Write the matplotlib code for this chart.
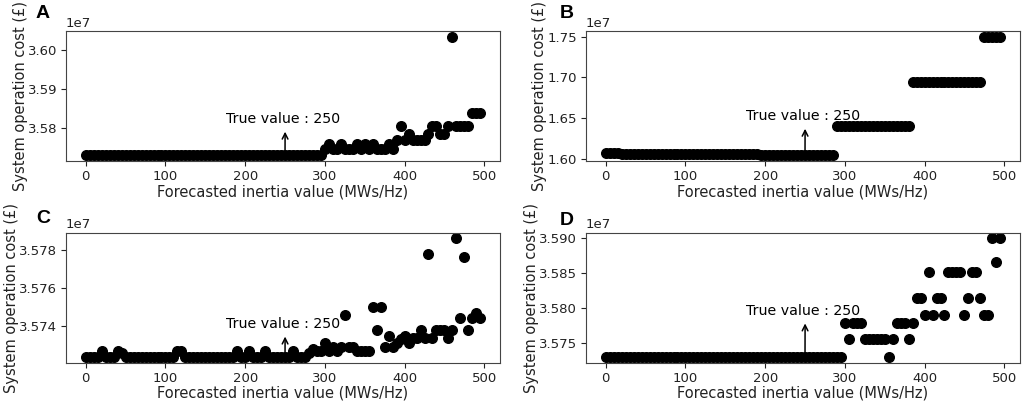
import numpy as np
import matplotlib
matplotlib.use("Agg")
import matplotlib.pyplot as plt

plt.rcParams["font.family"] = ["DejaVu Sans"]

# forecasted inertia values (MWs/Hz), one run every 5 units
inertia = np.arange(0, 500, 5)

# system operation cost, in units of 1e7 GBP
cost_a = ([3.5730] * 60
          + [3.5745, 3.5758, 3.5745, 3.5745, 3.5758, 3.5745, 3.5745, 3.5745,
             3.5758, 3.5745, 3.5758, 3.5745, 3.5758, 3.5745, 3.5745, 3.5745,
             3.5758, 3.5745, 3.5768, 3.5805, 3.5768, 3.5783, 3.5768, 3.5768,
             3.5768, 3.5768, 3.5783, 3.5805, 3.5805, 3.5783, 3.5783, 3.5805,
             3.6034, 3.5805, 3.5805, 3.5805, 3.5805, 3.5837, 3.5837, 3.5837])

cost_b = ([1.6077] * 4 + [1.6065] * 17 + [1.6058] * 18 + [1.6049] * 19
          + [1.6408] * 19 + [1.6943] * 18 + [1.7499] * 5)

cost_c = ([3.5724] * 4 + [3.5727] + [3.5724] * 3 + [3.5727, 3.5726]
          + [3.5724] * 13 + [3.5727, 3.5727] + [3.5724] * 13 + [3.5727]
          + [3.5724] * 2 + [3.5727] + [3.5724] * 3 + [3.5727]
          + [3.5724] * 6 + [3.5727] + [3.5724] * 3
          + [3.5726, 3.5728, 3.5727, 3.5727,
             3.5731, 3.5727, 3.5729, 3.5727, 3.5729, 3.5746, 3.5729, 3.5729]
          + [3.5727] * 4
          + [3.5750, 3.5738, 3.5750, 3.5729, 3.5735, 3.5729, 3.5731, 3.5733,
             3.5735, 3.5731, 3.5734, 3.5734, 3.5738, 3.5734, 3.5778, 3.5734,
             3.5738, 3.5738, 3.5738, 3.5734, 3.5738, 3.5786, 3.5744, 3.5776,
             3.5738, 3.5744, 3.5747, 3.5744])

cost_d = ([3.5730] * 60
          + [3.5778, 3.5755, 3.5778, 3.5778, 3.5778]
          + [3.5755] * 6
          + [3.5730, 3.5755, 3.5778, 3.5778, 3.5778, 3.5755, 3.5778,
             3.5815, 3.5815, 3.5790, 3.5851, 3.5790, 3.5815, 3.5815, 3.5790,
             3.5851, 3.5851, 3.5851, 3.5851, 3.5790, 3.5815, 3.5851, 3.5851,
             3.5815, 3.5790, 3.5790, 3.5900, 3.5866, 3.5900])

panel_letters = ["A", "B", "C", "D"]
costs = [cost_a, cost_b, cost_c, cost_d]
y_ticks = [[3.58, 3.59, 3.60], [1.60, 1.65, 1.70, 1.75],
           [3.574, 3.576, 3.578], [3.575, 3.580, 3.585, 3.590]]
true_value = 250
label_y = [3.5812, 1.6476, 3.5739, 3.5790]  # where the annotation text sits

# axes boxes in figure fractions (left, bottom, width, height)
boxes = [(0.0645, 0.6015, 0.4238, 0.3225), (0.5723, 0.6015, 0.4238, 0.3225),
         (0.0645, 0.1027, 0.4238, 0.3218), (0.5723, 0.1027, 0.4238, 0.3218)]
letter_pos = [(0.035, 0.987), (0.547, 0.987), (0.035, 0.481), (0.547, 0.476)]


def main() -> None:
    fig = plt.figure(figsize=(10.24, 4.04), dpi=100)
    for box, cost, ticks, ty, letter, lpos in zip(
            boxes, costs, y_ticks, label_y, panel_letters, letter_pos):
        ax = fig.add_axes(box)
        y = np.array(cost) * 1e7
        ax.scatter(inertia, y, s=48, color="black", zorder=2)
        ax.set_yticks(np.array(ticks) * 1e7)
        ax.set_xticks([0, 100, 200, 300, 400, 500])
        ax.ticklabel_format(axis="y", style="sci", scilimits=(0, 0), useOffset=False)
        ax.tick_params(labelsize=9.5, colors="#222222", pad=3)
        for sp in ax.spines.values():
            sp.set_color("#444444")
        ax.set_xlabel("Forecasted inertia value (MWs/Hz)", fontsize=10.5,
                      labelpad=1, color="#222222")
        ax.set_ylabel("System operation cost (£)", fontsize=10.5,
                      labelpad=0, color="#222222")
        ax.yaxis.get_offset_text().set_fontsize(9.5)

        base = y[inertia == true_value][0]
        # arrow points up from the true-value marker to the label
        ax.annotate("True value : 250", xy=(true_value, base),
                    xytext=(true_value - 3, ty * 1e7), ha="center",
                    fontsize=10.2, zorder=3,
                    arrowprops=dict(arrowstyle="<-", color="black", lw=1.1,
                                    shrinkB=3, relpos=(0.522, 0.5)))

        fig.text(lpos[0], lpos[1], letter, fontsize=14, fontweight="bold",
                 family="Liberation Sans", va="top", ha="left")

    fig.savefig("out.png", dpi=100)
    plt.close(fig)


if __name__ == "__main__":
    main()
